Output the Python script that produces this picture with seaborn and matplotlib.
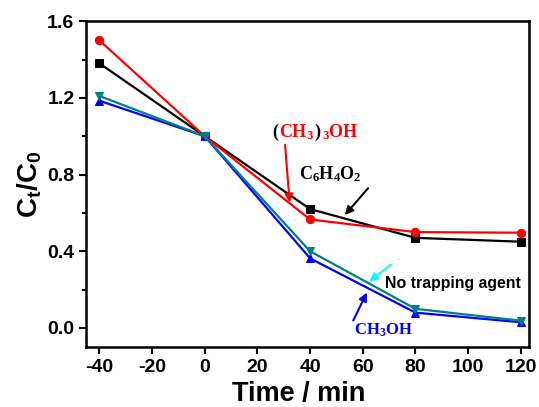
import pandas as pd
import matplotlib.pyplot as plt
import matplotlib.transforms as mtransforms
import seaborn as sns

# data
time = [-40, 0, 40, 80, 120]
benzoquinone = [1.38, 1.00, 0.62, 0.47, 0.45]   # C6H4O2
tba = [1.50, 1.00, 0.566, 0.50, 0.497]          # (CH3)3OH
methanol = [1.185, 1.00, 0.363, 0.08, 0.03]     # CH3OH
no_agent = [1.21, 1.00, 0.40, 0.10, 0.038]      # no trapping agent

series_names = ["C6H4O2", "(CH3)3OH", "CH3OH", "No trapping agent"]
series_vals = [benzoquinone, tba, methanol, no_agent]
colors = ["black", "red", "blue", "#008080"]
markers = ["s", "o", "^", "v"]

sns.set_style("ticks")
plt.rcParams['font.family'] = ['Liberation Sans', 'DejaVu Sans']
plt.rcParams['font.weight'] = 'bold'
plt.rcParams['axes.unicode_minus'] = False
plt.rcParams['mathtext.fontset'] = 'custom'
plt.rcParams['mathtext.bf'] = 'Liberation Sans:bold'
plt.rcParams['mathtext.rm'] = 'Liberation Serif:bold'
plt.rcParams['text.color'] = 'black'
plt.rcParams['axes.labelcolor'] = 'black'
plt.rcParams['xtick.color'] = 'black'
plt.rcParams['ytick.color'] = 'black'
plt.rcParams['axes.edgecolor'] = 'black'

fig = plt.figure(figsize=(5.39, 4.07), dpi=100)
ax = fig.add_axes([0.16, 0.147, 0.821, 0.801])
renderer = fig.canvas.get_renderer()

for name, vals, c, m in zip(series_names, series_vals, colors, markers):
    df = pd.DataFrame({"t": time, "c": vals})
    sns.lineplot(data=df, x="t", y="c", color=c, marker=m, markersize=6,
                 markeredgecolor=c, linewidth=1.6, ax=ax)

ax.set_xlim(-45, 123)
ax.set_ylim(-0.1, 1.6)
ax.set_xticks([-40, -20, 0, 20, 40, 60, 80, 100, 120])
ax.set_yticks([0.0, 0.4, 0.8, 1.2, 1.6])
ax.set_yticks([0.2, 0.6, 1.0, 1.4], minor=True)
ax.set_yticklabels(["0.0", "0.4", "0.8", "1.2", "1.6"])
ax.tick_params(axis="both", which="major", direction="out", length=5, width=1.5,
               labelsize=14)
ax.tick_params(axis="y", which="minor", direction="out", length=3, width=1.5)
for lbl in ax.get_xticklabels() + ax.get_yticklabels():
    lbl.set_fontweight("bold")
for sp in ax.spines.values():
    sp.set_visible(True)
    sp.set_linewidth(1.8)
    sp.set_color("black")

ax.set_xlabel("Time / min", fontsize=19.5, fontweight="bold")
ax.xaxis.set_label_coords(0.481, -0.103)
ax.set_ylabel(r"$\mathbf{C_t/C_0}$", fontsize=20, labelpad=2)


def pieces(x, y, parts, fs):
    # lay coloured pieces of one label side by side
    offset = 0
    for s, c in parts:
        tr = mtransforms.offset_copy(ax.transData, fig=fig, x=offset, y=0, units="dots")
        t = ax.text(x, y, s, color=c, fontsize=fs, ha="left", va="baseline", transform=tr)
        offset += t.get_window_extent(renderer).width


# (CH3)3OH: red with black brackets
ax.annotate("", xy=(32.3, 0.64), xytext=(30.4, 0.97),
            arrowprops=dict(arrowstyle="-|>", color="red", lw=1.5, mutation_scale=12))
pieces(25.5, 0.995, [(r"$\mathrm{(}$", "black"), (r"$\mathrm{CH_3}$", "red"),
                     (r"$\mathrm{)}$", "black"), (r"$\mathrm{{}_3OH}$", "red")], 13)

ax.annotate("", xy=(52.5, 0.578), xytext=(62.7, 0.74),
            arrowprops=dict(arrowstyle="-|>", color="black", lw=1.5, mutation_scale=12))
ax.text(47.5, 0.80, r"$\mathrm{C_6H_4O_2}$", color="black", fontsize=13,
        ha="center", va="center")

ax.annotate("", xy=(61.6, 0.234), xytext=(71.5, 0.339),
            arrowprops=dict(arrowstyle="-|>", color="cyan", lw=1.5, mutation_scale=12))
ax.text(68.4, 0.234, "No trapping agent", color="black", fontsize=11.4,
        fontweight="bold", ha="left", va="center")

ax.annotate("", xy=(62, 0.198), xytext=(55.9, 0.026),
            arrowprops=dict(arrowstyle="-|>", color="blue", lw=1.5, mutation_scale=12))
ax.text(56.6, -0.01, r"$\mathrm{CH_3OH}$", color="blue", fontsize=12,
        ha="left", va="center")

fig.savefig("out.png", dpi=100)
